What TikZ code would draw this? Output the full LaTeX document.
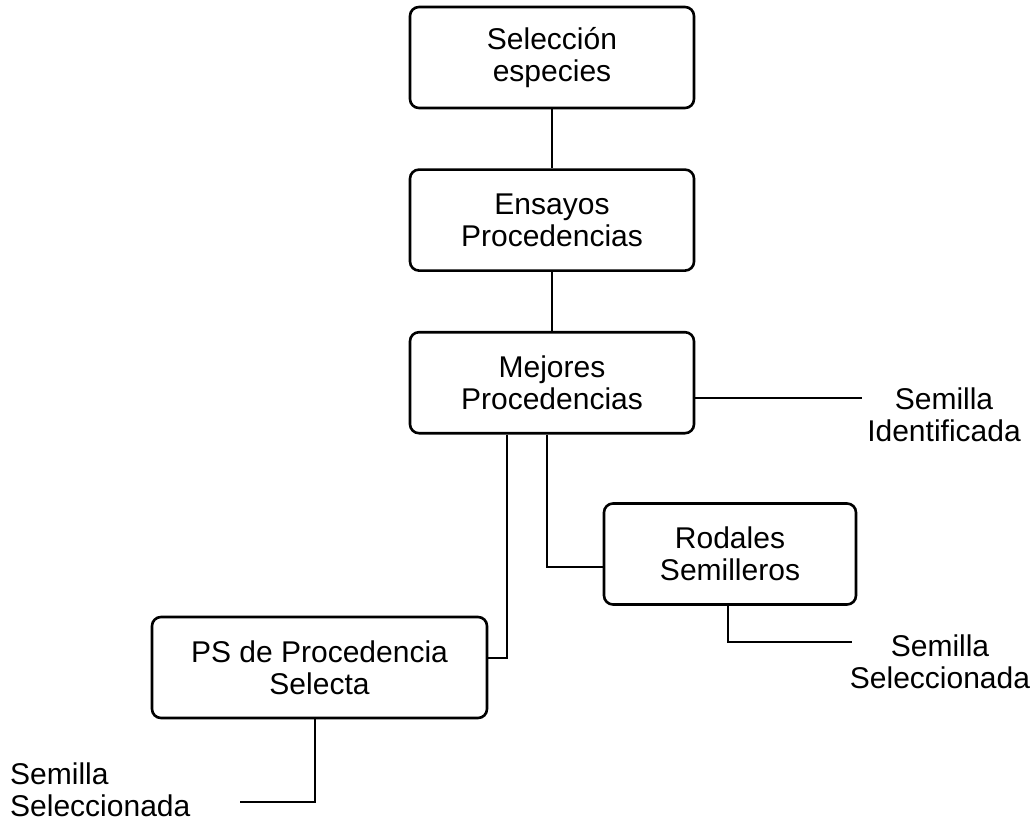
\documentclass[tikz,border=0pt]{standalone}
\usepackage{fontspec}
\setmainfont{Liberation Sans}
\usetikzlibrary{positioning}

\tikzset{
  caja/.style={draw, line width=2.6pt, rounded corners=9pt, align=center,
    font=\fontsize{30}{32}\selectfont, inner sep=0pt, minimum height=101pt},
  rotulo/.style={align=center, font=\fontsize{30}{32}\selectfont, inner sep=0pt},
  enlace/.style={line width=2.2pt}
}

\begin{document}
\begin{tikzpicture}[x=1pt,y=-1pt]
\useasboundingbox (0,0) rectangle (1035,824);
% cadena central
\node[caja, minimum width=284pt] (seleccion) at (552,57.5) {Selección\\especies};
\node[caja, minimum width=284pt, below=59pt of seleccion] (ensayos) {Ensayos\\Procedencias};
\node[caja, minimum width=284pt, below=59pt of ensayos] (mejores) {Mejores\\Procedencias};
\node[caja, minimum width=252pt] (rodales) at (730,554) {Rodales\\Semilleros};
\node[caja, minimum width=335pt] (psselecta) at (319.5,667.5) {PS de Procedencia\\Selecta};
% rotulos de semilla
\node[rotulo] (semident) at (944,415) {Semilla\\Identificada};
\node[rotulo] (semselR) at (940,662) {Semilla\\Seleccionada};
\node[rotulo, anchor=west, align=left] (semselL) at (10,790) {Semilla\\Seleccionada};
% puntos de quiebre
\coordinate (finident) at (862,398);
\coordinate (codoR) at (547,567);
\coordinate (codoL) at (507,658);
\coordinate (codoRod) at (728,642);
\coordinate (finRod) at (852,642);
\coordinate (codoPS) at (315,802);
\coordinate (finPS) at (240,802);
\draw[enlace] (seleccion) -- (ensayos);
\draw[enlace] (ensayos) -- (mejores);
\draw[enlace] (mejores.east |- finident) -- (finident);
\draw[enlace] (codoR |- mejores.south) -- (codoR) -- (codoR -| rodales.west);
\draw[enlace] (codoL |- mejores.south) -- (codoL) -- (codoL -| psselecta.east);
\draw[enlace] (codoRod |- rodales.south) -- (codoRod) -- (finRod);
\draw[enlace] (codoPS |- psselecta.south) -- (codoPS) -- (finPS);
\end{tikzpicture}
\end{document}
